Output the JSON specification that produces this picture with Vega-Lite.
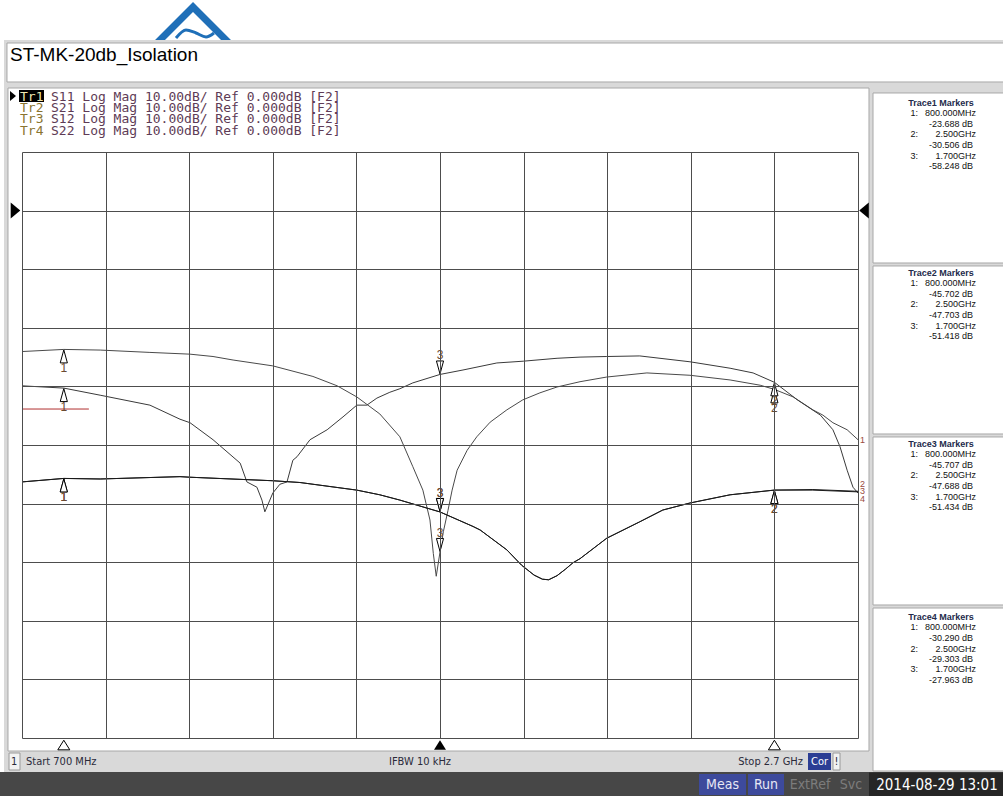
{
  "$schema": "https://vega.github.io/schema/vega-lite/v6.json",
  "width": 836,
  "height": 586,
  "autosize": {"type": "none"},
  "padding": {"left": 22, "top": 152, "right": 145, "bottom": 58},
  "background": "white",
  "config": {"view": {"stroke": null}},
  "datasets": {
    "traces": [
      {"trace": "Tr1", "f": 700, "db": -24.05}, {"trace": "Tr1", "f": 800, "db": -23.69}, {"trace": "Tr1", "f": 887, "db": -23.8}, {"trace": "Tr1", "f": 1006, "db": -24.2}, {"trace": "Tr1", "f": 1102, "db": -24.5}, {"trace": "Tr1", "f": 1157, "db": -24.9}, {"trace": "Tr1", "f": 1205, "db": -25.5}, {"trace": "Tr1", "f": 1300, "db": -26.5}, {"trace": "Tr1", "f": 1396, "db": -28.3}, {"trace": "Tr1", "f": 1454, "db": -29.9}, {"trace": "Tr1", "f": 1501, "db": -31.8}, {"trace": "Tr1", "f": 1556, "db": -34.7}, {"trace": "Tr1", "f": 1604, "db": -38.6}, {"trace": "Tr1", "f": 1635, "db": -43.7}, {"trace": "Tr1", "f": 1659, "db": -47.7}, {"trace": "Tr1", "f": 1676, "db": -52.8}, {"trace": "Tr1", "f": 1684, "db": -58.5}, {"trace": "Tr1", "f": 1691, "db": -62.4}, {"trace": "Tr1", "f": 1700, "db": -58.25}, {"trace": "Tr1", "f": 1708, "db": -54.8}, {"trace": "Tr1", "f": 1719, "db": -51.2}, {"trace": "Tr1", "f": 1729, "db": -47.7}, {"trace": "Tr1", "f": 1741, "db": -44.3}, {"trace": "Tr1", "f": 1765, "db": -40.9}, {"trace": "Tr1", "f": 1788, "db": -38.6}, {"trace": "Tr1", "f": 1820, "db": -36.1}, {"trace": "Tr1", "f": 1860, "db": -34.0}, {"trace": "Tr1", "f": 1898, "db": -32.3}, {"trace": "Tr1", "f": 1939, "db": -31.1}, {"trace": "Tr1", "f": 1980, "db": -30.1}, {"trace": "Tr1", "f": 2035, "db": -29.2}, {"trace": "Tr1", "f": 2099, "db": -28.4}, {"trace": "Tr1", "f": 2195, "db": -27.7}, {"trace": "Tr1", "f": 2298, "db": -28.1}, {"trace": "Tr1", "f": 2394, "db": -28.9}, {"trace": "Tr1", "f": 2466, "db": -29.8}, {"trace": "Tr1", "f": 2500, "db": -30.51}, {"trace": "Tr1", "f": 2545, "db": -31.8}, {"trace": "Tr1", "f": 2592, "db": -34.0}, {"trace": "Tr1", "f": 2616, "db": -34.9}, {"trace": "Tr1", "f": 2640, "db": -36.2}, {"trace": "Tr1", "f": 2674, "db": -37.4}, {"trace": "Tr1", "f": 2700, "db": -39.1},
      {"trace": "Tr4", "f": 700, "db": -29.9}, {"trace": "Tr4", "f": 800, "db": -30.29}, {"trace": "Tr4", "f": 887, "db": -31.5}, {"trace": "Tr4", "f": 1006, "db": -33.2}, {"trace": "Tr4", "f": 1078, "db": -35.6}, {"trace": "Tr4", "f": 1102, "db": -36.2}, {"trace": "Tr4", "f": 1157, "db": -39.1}, {"trace": "Tr4", "f": 1222, "db": -43.1}, {"trace": "Tr4", "f": 1238, "db": -46.3}, {"trace": "Tr4", "f": 1262, "db": -47.2}, {"trace": "Tr4", "f": 1274, "db": -49.4}, {"trace": "Tr4", "f": 1281, "db": -51.4}, {"trace": "Tr4", "f": 1293, "db": -49.4}, {"trace": "Tr4", "f": 1300, "db": -48.2}, {"trace": "Tr4", "f": 1317, "db": -46.7}, {"trace": "Tr4", "f": 1334, "db": -46.3}, {"trace": "Tr4", "f": 1348, "db": -42.6}, {"trace": "Tr4", "f": 1358, "db": -42.0}, {"trace": "Tr4", "f": 1389, "db": -39.1}, {"trace": "Tr4", "f": 1430, "db": -37.4}, {"trace": "Tr4", "f": 1468, "db": -35.2}, {"trace": "Tr4", "f": 1501, "db": -33.2}, {"trace": "Tr4", "f": 1525, "db": -33.2}, {"trace": "Tr4", "f": 1549, "db": -32.0}, {"trace": "Tr4", "f": 1580, "db": -31.0}, {"trace": "Tr4", "f": 1604, "db": -30.4}, {"trace": "Tr4", "f": 1635, "db": -29.4}, {"trace": "Tr4", "f": 1700, "db": -27.96}, {"trace": "Tr4", "f": 1755, "db": -27.2}, {"trace": "Tr4", "f": 1836, "db": -26.0}, {"trace": "Tr4", "f": 1899, "db": -25.7}, {"trace": "Tr4", "f": 1980, "db": -25.2}, {"trace": "Tr4", "f": 2035, "db": -25.0}, {"trace": "Tr4", "f": 2099, "db": -24.9}, {"trace": "Tr4", "f": 2178, "db": -24.8}, {"trace": "Tr4", "f": 2298, "db": -25.8}, {"trace": "Tr4", "f": 2394, "db": -26.9}, {"trace": "Tr4", "f": 2449, "db": -27.7}, {"trace": "Tr4", "f": 2500, "db": -29.3}, {"trace": "Tr4", "f": 2555, "db": -32.3}, {"trace": "Tr4", "f": 2610, "db": -34.9}, {"trace": "Tr4", "f": 2640, "db": -37.4}, {"trace": "Tr4", "f": 2657, "db": -40.3}, {"trace": "Tr4", "f": 2674, "db": -44.3}, {"trace": "Tr4", "f": 2688, "db": -47.2}, {"trace": "Tr4", "f": 2700, "db": -48.2},
      {"trace": "Tr3", "f": 700, "db": -46.3}, {"trace": "Tr3", "f": 800, "db": -45.71}, {"trace": "Tr3", "f": 887, "db": -45.8}, {"trace": "Tr3", "f": 1078, "db": -45.4}, {"trace": "Tr3", "f": 1102, "db": -45.5}, {"trace": "Tr3", "f": 1300, "db": -46.1}, {"trace": "Tr3", "f": 1365, "db": -46.4}, {"trace": "Tr3", "f": 1501, "db": -47.7}, {"trace": "Tr3", "f": 1556, "db": -48.5}, {"trace": "Tr3", "f": 1604, "db": -49.4}, {"trace": "Tr3", "f": 1700, "db": -51.43}, {"trace": "Tr3", "f": 1779, "db": -53.9}, {"trace": "Tr3", "f": 1796, "db": -54.5}, {"trace": "Tr3", "f": 1860, "db": -57.9}, {"trace": "Tr3", "f": 1895, "db": -60.5}, {"trace": "Tr3", "f": 1925, "db": -62.2}, {"trace": "Tr3", "f": 1945, "db": -62.9}, {"trace": "Tr3", "f": 1960, "db": -63.0}, {"trace": "Tr3", "f": 1980, "db": -62.3}, {"trace": "Tr3", "f": 2000, "db": -61.2}, {"trace": "Tr3", "f": 2018, "db": -60.1}, {"trace": "Tr3", "f": 2035, "db": -59.4}, {"trace": "Tr3", "f": 2099, "db": -55.9}, {"trace": "Tr3", "f": 2178, "db": -53.1}, {"trace": "Tr3", "f": 2233, "db": -51.1}, {"trace": "Tr3", "f": 2298, "db": -49.9}, {"trace": "Tr3", "f": 2394, "db": -48.5}, {"trace": "Tr3", "f": 2500, "db": -47.69}, {"trace": "Tr3", "f": 2592, "db": -47.6}, {"trace": "Tr3", "f": 2700, "db": -47.9},
      {"trace": "Tr2", "f": 700, "db": -46.3}, {"trace": "Tr2", "f": 800, "db": -45.7}, {"trace": "Tr2", "f": 887, "db": -45.8}, {"trace": "Tr2", "f": 1078, "db": -45.4}, {"trace": "Tr2", "f": 1102, "db": -45.5}, {"trace": "Tr2", "f": 1300, "db": -46.1}, {"trace": "Tr2", "f": 1365, "db": -46.4}, {"trace": "Tr2", "f": 1501, "db": -47.7}, {"trace": "Tr2", "f": 1556, "db": -48.5}, {"trace": "Tr2", "f": 1604, "db": -49.4}, {"trace": "Tr2", "f": 1700, "db": -51.42}, {"trace": "Tr2", "f": 1779, "db": -53.9}, {"trace": "Tr2", "f": 1796, "db": -54.5}, {"trace": "Tr2", "f": 1860, "db": -57.9}, {"trace": "Tr2", "f": 1895, "db": -60.5}, {"trace": "Tr2", "f": 1925, "db": -62.2}, {"trace": "Tr2", "f": 1945, "db": -62.9}, {"trace": "Tr2", "f": 1960, "db": -63.0}, {"trace": "Tr2", "f": 1980, "db": -62.3}, {"trace": "Tr2", "f": 2000, "db": -61.2}, {"trace": "Tr2", "f": 2018, "db": -60.1}, {"trace": "Tr2", "f": 2035, "db": -59.4}, {"trace": "Tr2", "f": 2099, "db": -55.9}, {"trace": "Tr2", "f": 2178, "db": -53.1}, {"trace": "Tr2", "f": 2233, "db": -51.1}, {"trace": "Tr2", "f": 2298, "db": -49.9}, {"trace": "Tr2", "f": 2394, "db": -48.5}, {"trace": "Tr2", "f": 2500, "db": -47.7}, {"trace": "Tr2", "f": 2592, "db": -47.7}, {"trace": "Tr2", "f": 2700, "db": -48.0}
    ],
    "markers": [
      {"trace": "Tr1", "m": "1", "f": 800, "db": -23.688, "dir": "up"},
      {"trace": "Tr1", "m": "2", "f": 2500, "db": -30.506, "dir": "up"},
      {"trace": "Tr1", "m": "3", "f": 1700, "db": -58.248, "dir": "down"},
      {"trace": "Tr2", "m": "1", "f": 800, "db": -45.702, "dir": "up"},
      {"trace": "Tr2", "m": "2", "f": 2500, "db": -47.703, "dir": "up"},
      {"trace": "Tr2", "m": "3", "f": 1700, "db": -51.418, "dir": "down"},
      {"trace": "Tr3", "m": "1", "f": 800, "db": -45.707, "dir": "up"},
      {"trace": "Tr3", "m": "2", "f": 2500, "db": -47.688, "dir": "up"},
      {"trace": "Tr3", "m": "3", "f": 1700, "db": -51.434, "dir": "down"},
      {"trace": "Tr4", "m": "1", "f": 800, "db": -30.29, "dir": "up"},
      {"trace": "Tr4", "m": "2", "f": 2500, "db": -29.303, "dir": "up"},
      {"trace": "Tr4", "m": "3", "f": 1700, "db": -27.963, "dir": "down"}
    ],
    "endlabels": [
      {"label": "1", "f": 2700, "db": -39.1},
      {"label": "2", "f": 2700, "db": -46.6},
      {"label": "3", "f": 2700, "db": -47.9},
      {"label": "4", "f": 2700, "db": -49.2}
    ],
    "boxes": [
      {"kind": "frame", "f": 656.9, "f2": 3050, "db": 29.11, "db2": -95.8},
      {"kind": "white", "f": 664.1, "f2": 3050, "db": 28.6, "db2": 21.95},
      {"kind": "white", "f": 666.5, "f2": 2726.3, "db": 20.92, "db2": -92.22},
      {"kind": "white", "f": 2735.9, "f2": 3050, "db": 20.07, "db2": -8.94},
      {"kind": "white", "f": 2735.9, "f2": 3050, "db": -9.45, "db2": -38.12},
      {"kind": "white", "f": 2735.9, "f2": 3050, "db": -38.63, "db2": -67.3},
      {"kind": "white", "f": 2735.9, "f2": 3050, "db": -67.82, "db2": -95.63},
      {"kind": "dark", "f": 640, "f2": 3050, "db": -95.8, "db2": -100.5},
      {"kind": "date", "f": 2726.3, "f2": 3050, "db": -95.9, "db2": -100.5},
      {"kind": "blue", "f": 2319.6, "f2": 2432.1, "db": -96.14, "db2": -99.73},
      {"kind": "blue", "f": 2436.8, "f2": 2523.0, "db": -96.14, "db2": -99.73},
      {"kind": "cor", "f": 2580.4, "f2": 2635.4, "db": -92.56, "db2": -95.46},
      {"kind": "small", "f": 668.9, "f2": 695.2, "db": -92.56, "db2": -95.46},
      {"kind": "small", "f": 2640.2, "f2": 2657.0, "db": -92.56, "db2": -95.46},
      {"kind": "black", "f": 692.8, "f2": 752.6, "db": 20.58, "db2": 18.53}
    ],
    "logo": [
      {"part": "chev", "f": 1020.6, "db": 28.43},
      {"part": "chev", "f": 1109.1, "db": 34.74},
      {"part": "chev", "f": 1197.6, "db": 28.43},
      {"part": "wave", "f": 1068.4, "db": 29.45},
      {"part": "wave", "f": 1092.3, "db": 30.82},
      {"part": "wave", "f": 1116.3, "db": 30.31},
      {"part": "wave", "f": 1140.2, "db": 29.62},
      {"part": "wave", "f": 1159.3, "db": 30.31}
    ],
    "refs": [
      {"side": "left", "f": 684.4, "db": 0},
      {"side": "right", "f": 2714.4, "db": 0}
    ],
    "bottommarks": [
      {"m": "1", "f": 800, "db": -91.2, "active": "no"},
      {"m": "3", "f": 1700, "db": -91.2, "active": "yes"},
      {"m": "2", "f": 2500, "db": -91.2, "active": "no"}
    ],
    "legend": [
      {"kind": "tr1", "f": 695.2, "db": 19.44, "label": "Tr1"},
      {"kind": "tr", "f": 695.2, "db": 17.46, "label": "Tr2"},
      {"kind": "tr", "f": 695.2, "db": 15.55, "label": "Tr3"},
      {"kind": "tr", "f": 695.2, "db": 13.63, "label": "Tr4"},
      {"kind": "rest", "f": 769.4, "db": 19.44, "label": "S11 Log Mag 10.00dB/ Ref 0.000dB [F2]"},
      {"kind": "rest", "f": 769.4, "db": 17.46, "label": "S21 Log Mag 10.00dB/ Ref 0.000dB [F2]"},
      {"kind": "rest", "f": 769.4, "db": 15.55, "label": "S12 Log Mag 10.00dB/ Ref 0.000dB [F2]"},
      {"kind": "rest", "f": 769.4, "db": 13.63, "label": "S22 Log Mag 10.00dB/ Ref 0.000dB [F2]"},
      {"kind": "title", "f": 671.3, "db": 26.47, "label": "ST-MK-20db_Isolation"}
    ],
    "panel": [
      {"kind": "head", "f": 2898.6, "db": 18.36, "label": "Trace1 Markers"},
      {"kind": "num", "f": 2843.5, "db": 16.57, "label": "1:"},
      {"kind": "val", "f": 2982.3, "db": 16.57, "label": "800.000MHz"},
      {"kind": "val", "f": 2975.1, "db": 14.78, "label": "-23.688 dB"},
      {"kind": "num", "f": 2843.5, "db": 12.99, "label": "2:"},
      {"kind": "val", "f": 2982.3, "db": 12.99, "label": "2.500GHz"},
      {"kind": "val", "f": 2975.1, "db": 11.19, "label": "-30.506 dB"},
      {"kind": "num", "f": 2843.5, "db": 9.4, "label": "3:"},
      {"kind": "val", "f": 2982.3, "db": 9.4, "label": "1.700GHz"},
      {"kind": "val", "f": 2975.1, "db": 7.61, "label": "-58.248 dB"},
      {"kind": "head", "f": 2898.6, "db": -10.65, "label": "Trace2 Markers"},
      {"kind": "num", "f": 2843.5, "db": -12.44, "label": "1:"},
      {"kind": "val", "f": 2982.3, "db": -12.44, "label": "800.000MHz"},
      {"kind": "val", "f": 2975.1, "db": -14.23, "label": "-45.702 dB"},
      {"kind": "num", "f": 2843.5, "db": -16.02, "label": "2:"},
      {"kind": "val", "f": 2982.3, "db": -16.02, "label": "2.500GHz"},
      {"kind": "val", "f": 2975.1, "db": -17.82, "label": "-47.703 dB"},
      {"kind": "num", "f": 2843.5, "db": -19.61, "label": "3:"},
      {"kind": "val", "f": 2982.3, "db": -19.61, "label": "1.700GHz"},
      {"kind": "val", "f": 2975.1, "db": -21.4, "label": "-51.418 dB"},
      {"kind": "head", "f": 2898.6, "db": -39.83, "label": "Trace3 Markers"},
      {"kind": "num", "f": 2843.5, "db": -41.62, "label": "1:"},
      {"kind": "val", "f": 2982.3, "db": -41.62, "label": "800.000MHz"},
      {"kind": "val", "f": 2975.1, "db": -43.41, "label": "-45.707 dB"},
      {"kind": "num", "f": 2843.5, "db": -45.2, "label": "2:"},
      {"kind": "val", "f": 2982.3, "db": -45.2, "label": "2.500GHz"},
      {"kind": "val", "f": 2975.1, "db": -47.0, "label": "-47.688 dB"},
      {"kind": "num", "f": 2843.5, "db": -48.79, "label": "3:"},
      {"kind": "val", "f": 2982.3, "db": -48.79, "label": "1.700GHz"},
      {"kind": "val", "f": 2975.1, "db": -50.58, "label": "-51.434 dB"},
      {"kind": "head", "f": 2898.6, "db": -69.35, "label": "Trace4 Markers"},
      {"kind": "num", "f": 2843.5, "db": -71.14, "label": "1:"},
      {"kind": "val", "f": 2982.3, "db": -71.14, "label": "800.000MHz"},
      {"kind": "val", "f": 2975.1, "db": -72.94, "label": "-30.290 dB"},
      {"kind": "num", "f": 2843.5, "db": -74.73, "label": "2:"},
      {"kind": "val", "f": 2982.3, "db": -74.73, "label": "2.500GHz"},
      {"kind": "val", "f": 2975.1, "db": -76.52, "label": "-29.303 dB"},
      {"kind": "num", "f": 2843.5, "db": -78.31, "label": "3:"},
      {"kind": "val", "f": 2982.3, "db": -78.31, "label": "1.700GHz"},
      {"kind": "val", "f": 2975.1, "db": -80.1, "label": "-27.963 dB"}
    ],
    "status": [
      {"kind": "c", "f": 680.9, "db": -94.1, "label": "1"},
      {"kind": "l", "f": 709.6, "db": -94.1, "label": "Start 700 MHz"},
      {"kind": "c", "f": 1652.2, "db": -94.1, "label": "IFBW 10 kHz"},
      {"kind": "r", "f": 2568.4, "db": -94.1, "label": "Stop 2.7 GHz"},
      {"kind": "cor", "f": 2607.9, "db": -94.1, "label": "Cor"},
      {"kind": "c", "f": 2648.6, "db": -94.1, "label": "!"},
      {"kind": "btn", "f": 2375.9, "db": -98.0, "label": "Meas"},
      {"kind": "btn", "f": 2479.9, "db": -98.0, "label": "Run"},
      {"kind": "dim", "f": 2585.2, "db": -98.0, "label": "ExtRef"},
      {"kind": "dim", "f": 2683.3, "db": -98.0, "label": "Svc"},
      {"kind": "date", "f": 2889.0, "db": -98.0, "label": "2014-08-29 13:01"}
    ]
  },
  "encoding": {
    "x": {
      "field": "f", "type": "quantitative",
      "scale": {"domain": [700, 2700], "nice": false, "zero": false},
      "axis": {"values": [700, 900, 1100, 1300, 1500, 1700, 1900, 2100, 2300, 2500, 2700], "grid": true, "labels": false, "ticks": false, "domain": false, "title": null, "gridColor": "#4d4d4d", "gridOpacity": 1, "gridWidth": 1, "zindex": 1}
    },
    "y": {
      "field": "db", "type": "quantitative",
      "scale": {"domain": [-90, 10], "nice": false, "zero": false},
      "axis": {"values": [-90, -80, -70, -60, -50, -40, -30, -20, -10, 0, 10], "grid": true, "labels": false, "ticks": false, "domain": false, "title": null, "gridColor": "#4d4d4d", "gridOpacity": 1, "gridWidth": 1, "zindex": 1}
    }
  },
  "layer": [
    {"data": {"name": "logo"}, "transform": [{"filter": "datum.part == 'chev'"}], "mark": {"type": "line", "color": "#1f6fb8", "strokeWidth": 7, "strokeJoin": "miter"}, "encoding": {"detail": {"field": "part"}}},
    {"data": {"name": "logo"}, "transform": [{"filter": "datum.part == 'wave'"}], "mark": {"type": "line", "color": "#1f6fb8", "strokeWidth": 3, "interpolate": "monotone"}, "encoding": {"detail": {"field": "part"}}},
    {"data": {"name": "boxes"}, "transform": [{"filter": "datum.kind == 'frame'"}], "mark": {"type": "rect", "fill": "#d9d9d9"}, "encoding": {"x2": {"field": "f2"}, "y2": {"field": "db2"}}},
    {"data": {"name": "boxes"}, "transform": [{"filter": "datum.kind == 'white'"}], "mark": {"type": "rect", "fill": "white", "stroke": "#a8a8a8", "strokeWidth": 1}, "encoding": {"x2": {"field": "f2"}, "y2": {"field": "db2"}}},
    {"data": {"name": "boxes"}, "transform": [{"filter": "datum.kind == 'dark'"}], "mark": {"type": "rect", "fill": "#474747"}, "encoding": {"x2": {"field": "f2"}, "y2": {"field": "db2"}}},
    {"data": {"name": "boxes"}, "transform": [{"filter": "datum.kind == 'date'"}], "mark": {"type": "rect", "fill": "#262626"}, "encoding": {"x2": {"field": "f2"}, "y2": {"field": "db2"}}},
    {"data": {"name": "boxes"}, "transform": [{"filter": "datum.kind == 'blue'"}], "mark": {"type": "rect", "fill": "#3d4a9c"}, "encoding": {"x2": {"field": "f2"}, "y2": {"field": "db2"}}},
    {"data": {"name": "boxes"}, "transform": [{"filter": "datum.kind == 'cor'"}], "mark": {"type": "rect", "fill": "#2c3e94"}, "encoding": {"x2": {"field": "f2"}, "y2": {"field": "db2"}}},
    {"data": {"name": "boxes"}, "transform": [{"filter": "datum.kind == 'small'"}], "mark": {"type": "rect", "fill": "#f2f2f2", "stroke": "#9a9a9a", "strokeWidth": 1}, "encoding": {"x2": {"field": "f2"}, "y2": {"field": "db2"}}},
    {"data": {"name": "boxes"}, "transform": [{"filter": "datum.kind == 'black'"}], "mark": {"type": "rect", "fill": "black"}, "encoding": {"x2": {"field": "f2"}, "y2": {"field": "db2"}}},
    {
      "data": {"name": "traces"},
      "mark": {"type": "line", "strokeWidth": 1, "interpolate": "linear"},
      "encoding": {
        "color": {"field": "trace", "type": "nominal", "scale": {"domain": ["Tr1", "Tr2", "Tr3", "Tr4"], "range": ["#4a4a4a", "#1a1a1a", "#1a1a1a", "#3a3a3a"]}, "legend": null},
        "detail": {"field": "trace"}
      }
    },
    {"data": {"values": [{"f": 700, "f2": 860, "db": -33.86}]}, "mark": {"type": "rule", "color": "#b03030", "strokeWidth": 1}, "encoding": {"x2": {"field": "f2"}}},
    {"data": {"name": "markers"}, "transform": [{"filter": "datum.dir == 'up'"}], "mark": {"type": "point", "shape": "M0,-1L0.55,1L-0.55,1Z", "size": 169, "filled": true, "fill": "white", "stroke": "black", "strokeWidth": 1, "opacity": 1, "yOffset": 7}},
    {"data": {"name": "markers"}, "transform": [{"filter": "datum.dir == 'down'"}], "mark": {"type": "point", "shape": "M0,1L0.55,-1L-0.55,-1Z", "size": 169, "filled": true, "fill": "white", "stroke": "black", "strokeWidth": 1, "opacity": 1, "yOffset": -7}},
    {"data": {"name": "markers"}, "transform": [{"filter": "datum.dir == 'up'"}], "mark": {"type": "text", "font": "Liberation Sans", "fontSize": 12, "color": "#6a4a30", "baseline": "middle", "align": "center", "yOffset": 19}, "encoding": {"text": {"field": "m"}}},
    {"data": {"name": "markers"}, "transform": [{"filter": "datum.dir == 'down'"}], "mark": {"type": "text", "font": "Liberation Sans", "fontSize": 12, "color": "#6a4a30", "baseline": "middle", "align": "center", "yOffset": -19}, "encoding": {"text": {"field": "m"}}},
    {"data": {"name": "endlabels"}, "mark": {"type": "text", "font": "Liberation Sans", "fontSize": 9, "color": "#9a4a40", "baseline": "middle", "align": "left", "dx": 2}, "encoding": {"text": {"field": "label"}}},
    {"data": {"name": "refs"}, "transform": [{"filter": "datum.side == 'left'"}], "mark": {"type": "point", "shape": "M-0.6,-1L0.6,0L-0.6,1Z", "size": 256, "filled": true, "color": "black", "opacity": 1}},
    {"data": {"name": "refs"}, "transform": [{"filter": "datum.side == 'right'"}], "mark": {"type": "point", "shape": "M0.6,-1L-0.6,0L0.6,1Z", "size": 256, "filled": true, "color": "black", "opacity": 1}},
    {"data": {"name": "bottommarks"}, "transform": [{"filter": "datum.active == 'no'"}], "mark": {"type": "point", "shape": "M0,-0.8L1,0.8L-1,0.8Z", "size": 144, "filled": true, "fill": "white", "stroke": "black", "strokeWidth": 1, "opacity": 1}},
    {"data": {"name": "bottommarks"}, "transform": [{"filter": "datum.active == 'yes'"}], "mark": {"type": "point", "shape": "M0,-0.8L1,0.8L-1,0.8Z", "size": 144, "filled": true, "color": "black", "opacity": 1}},
    {"data": {"values": [{"f": 678.5, "db": 19.56}]}, "mark": {"type": "point", "shape": "M-0.6,-1L0.6,0L-0.6,1Z", "size": 100, "filled": true, "color": "black", "opacity": 1}},
    {"data": {"name": "legend"}, "transform": [{"filter": "datum.kind == 'tr1'"}], "mark": {"type": "text", "font": "DejaVu Sans Mono", "fontSize": 13, "color": "#f0e8b0", "baseline": "middle", "align": "left"}, "encoding": {"text": {"field": "label"}}},
    {"data": {"name": "legend"}, "transform": [{"filter": "datum.kind == 'tr'"}], "mark": {"type": "text", "font": "DejaVu Sans Mono", "fontSize": 13, "color": "#8a7430", "baseline": "middle", "align": "left"}, "encoding": {"text": {"field": "label"}}},
    {"data": {"name": "legend"}, "transform": [{"filter": "datum.kind == 'rest'"}], "mark": {"type": "text", "font": "DejaVu Sans Mono", "fontSize": 13, "color": "#5e3b55", "baseline": "middle", "align": "left"}, "encoding": {"text": {"field": "label"}}},
    {"data": {"name": "legend"}, "transform": [{"filter": "datum.kind == 'title'"}], "mark": {"type": "text", "font": "Liberation Sans", "fontSize": 19, "color": "black", "baseline": "middle", "align": "left"}, "encoding": {"text": {"field": "label"}}},
    {"data": {"name": "panel"}, "transform": [{"filter": "datum.kind == 'head'"}], "mark": {"type": "text", "font": "Liberation Sans", "fontSize": 9, "fontWeight": "bold", "color": "#232a4a", "baseline": "middle", "align": "center"}, "encoding": {"text": {"field": "label"}}},
    {"data": {"name": "panel"}, "transform": [{"filter": "datum.kind != 'head'"}], "mark": {"type": "text", "font": "Liberation Sans", "fontSize": 9, "color": "#111111", "baseline": "middle", "align": "right"}, "encoding": {"text": {"field": "label"}}},
    {"data": {"name": "status"}, "transform": [{"filter": "datum.kind == 'c'"}], "mark": {"type": "text", "font": "DejaVu Sans Condensed", "fontSize": 11, "color": "#2a2a3a", "baseline": "middle", "align": "center"}, "encoding": {"text": {"field": "label"}}},
    {"data": {"name": "status"}, "transform": [{"filter": "datum.kind == 'l'"}], "mark": {"type": "text", "font": "DejaVu Sans Condensed", "fontSize": 11, "color": "#2a2a3a", "baseline": "middle", "align": "left"}, "encoding": {"text": {"field": "label"}}},
    {"data": {"name": "status"}, "transform": [{"filter": "datum.kind == 'r'"}], "mark": {"type": "text", "font": "DejaVu Sans Condensed", "fontSize": 11, "color": "#2a2a3a", "baseline": "middle", "align": "right"}, "encoding": {"text": {"field": "label"}}},
    {"data": {"name": "status"}, "transform": [{"filter": "datum.kind == 'cor'"}], "mark": {"type": "text", "font": "DejaVu Sans Condensed", "fontSize": 11, "color": "white", "baseline": "middle", "align": "center"}, "encoding": {"text": {"field": "label"}}},
    {"data": {"name": "status"}, "transform": [{"filter": "datum.kind == 'btn'"}], "mark": {"type": "text", "font": "DejaVu Sans Condensed", "fontSize": 14, "color": "#e8e8f4", "baseline": "middle", "align": "center"}, "encoding": {"text": {"field": "label"}}},
    {"data": {"name": "status"}, "transform": [{"filter": "datum.kind == 'dim'"}], "mark": {"type": "text", "font": "DejaVu Sans Condensed", "fontSize": 14, "color": "#7c7c7c", "baseline": "middle", "align": "center"}, "encoding": {"text": {"field": "label"}}},
    {"data": {"name": "status"}, "transform": [{"filter": "datum.kind == 'date'"}], "mark": {"type": "text", "font": "DejaVu Sans Condensed", "fontSize": 15, "color": "white", "baseline": "middle", "align": "center"}, "encoding": {"text": {"field": "label"}}}
  ]
}
